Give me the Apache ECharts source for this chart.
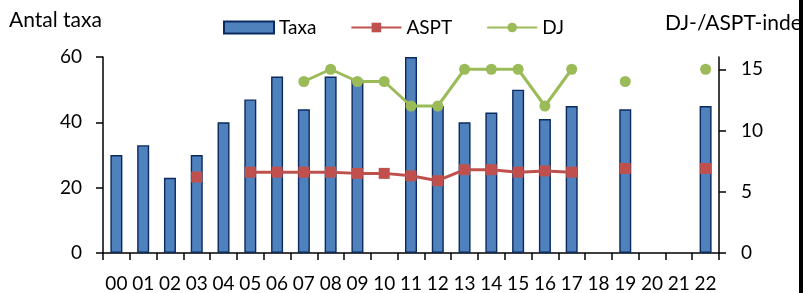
<!DOCTYPE html>
<html><head><meta charset="utf-8">
<script src="https://cdn.jsdelivr.net/npm/echarts@6/dist/echarts.min.js"></script>
<style>html,body{margin:0;padding:0;background:#fff}#c{width:803px;height:293px}</style>
</head><body><div id="c"></div>
<script>
var categories = ['00','01','02','03','04','05','06','07','08','09','10','11','12','13','14','15','16','17','18','19','20','21','22'];
var taxa = [30,33,23,30,40,47,54,44,54,53,null,60,45,40,43,50,41,45,null,44,null,null,45];
var aspt = [null,null,null,6.2,null,6.6,6.6,6.6,6.6,6.5,6.5,6.3,5.9,6.8,6.8,6.6,6.7,6.6,null,6.9,null,null,6.9];
var dj = [null,null,null,null,null,null,null,14,15,14,14,12,12,15,15,15,12,15,null,14,null,null,15];
var leftTicks = {min:0, max:60, interval:20};
var rightTicks = {min:0, max:16, interval:5};

var FONT = 'Lato';
var chart = echarts.init(document.getElementById('c'), null, {renderer:'canvas'});
chart.setOption({
  animation:false,
  backgroundColor:'#fff',
  textStyle:{fontFamily:FONT},
  grid:{left:103, right:84, top:57, bottom:38},
  legend:{
    left:218, top:13, itemWidth:50, itemHeight:12, itemGap:34,
    textStyle:{fontFamily:FONT, fontSize:19, color:'#000'},
    data:[{name:'Taxa', icon:'rect'},{name:'ASPT'},{name:'DJ'}]
  },
  graphic:[
    {type:'text', left:9, top:10, style:{text:'Antal taxa', font:'21px Lato', fill:'#000'}},
    {type:'text', x:665, y:13, style:{text:'DJ-/ASPT-index', font:'21px Lato', fill:'#000'}},
    {type:'text', x:-12, y:88, style:{text:'n', font:'24px Lato', fill:'#000'}},
    {type:'rect', shape:{x:799, y:0, width:4, height:293}, style:{fill:'#000'}, z:100}
  ],
  xAxis:{
    type:'category', data:categories, boundaryGap:true,
    axisLine:{lineStyle:{color:'#000', width:1.5}},
    axisTick:{show:true, interval:0, length:7, lineStyle:{color:'#000', width:1.5}},
    axisLabel:{interval:0, fontSize:19, color:'#000', margin:21, fontFamily:FONT}
  },
  yAxis:[
    {type:'value', min:leftTicks.min, max:leftTicks.max, interval:leftTicks.interval, position:'left',
     splitLine:{show:false},
     axisLine:{show:true, lineStyle:{color:'#000', width:1.5}},
     axisTick:{show:true, length:7, lineStyle:{color:'#000', width:1.5}},
     axisLabel:{fontSize:19, color:'#000', margin:21, fontFamily:FONT}},
    {type:'value', min:rightTicks.min, max:rightTicks.max, interval:rightTicks.interval, position:'right',
     splitLine:{show:false},
     axisLine:{show:true, lineStyle:{color:'#000', width:1.5}},
     axisTick:{show:true, length:7, lineStyle:{color:'#000', width:1.5}},
     axisLabel:{fontSize:19, color:'#000', margin:22, fontFamily:FONT, showMaxLabel:false}}
  ],
  series:[
    {name:'Taxa', type:'bar', data:taxa, yAxisIndex:0, barWidth:12,
     itemStyle:{color:'#4F81BD', borderColor:'#0b2a60', borderWidth:1.4}},
    {name:'ASPT', type:'line', data:aspt, yAxisIndex:1, connectNulls:false,
     showSymbol:true, showAllSymbol:true, symbol:'rect', symbolSize:11,
     lineStyle:{color:'#C0504D', width:3}, itemStyle:{color:'#C0504D'}, z:3},
    {name:'DJ', type:'line', data:dj, yAxisIndex:1, connectNulls:false,
     showSymbol:true, showAllSymbol:true, symbol:'circle', symbolSize:11,
     lineStyle:{color:'#9BBB59', width:3}, itemStyle:{color:'#9BBB59'}, z:4}
  ]
});
</script></body></html>
